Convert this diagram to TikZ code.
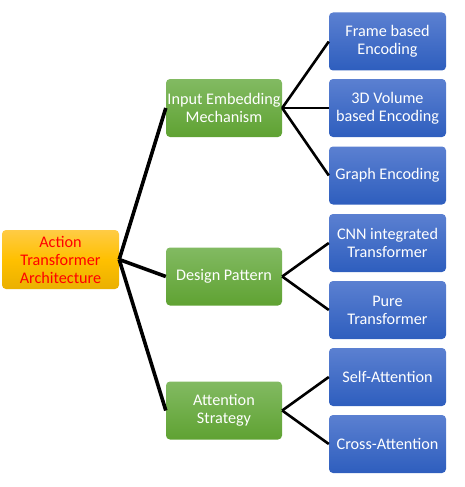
\documentclass[tikz,border=0pt]{standalone}
\usepackage{fontspec}
\setmainfont{Carlito}
\begin{document}
\begin{tikzpicture}[x=1pt,y=-1pt,
  box/.style={rounded corners=4pt, align=center, inner sep=0pt,
    minimum width=117pt, minimum height=58pt,
    font=\fontsize{16.2}{18}\selectfont, text=white},
  bluebox/.style={box, top color=blue1, bottom color=blue2},
  greenbox/.style={box, minimum width=116pt, top color=green1, bottom color=green2},
  rootbox/.style={box, minimum height=59pt, top color=orange1, bottom color=orange2, middle color=orange3, text=red},
  thickline/.style={line width=3.6pt},
  thinline/.style={line width=2.6pt}]
\definecolor{blue1}{HTML}{5B80D1}
\definecolor{blue2}{HTML}{2E5EBE}
\definecolor{green1}{HTML}{82BA62}
\definecolor{green2}{HTML}{5FA232}
\definecolor{orange1}{HTML}{FFCB45}
\definecolor{orange3}{HTML}{FFC000}
\definecolor{orange2}{HTML}{EAB000}
\definecolor{red}{HTML}{FF0000}
\useasboundingbox (0,0) rectangle (464,487);

\node[rootbox] (root) at (60.5,259.5) {Action\\Transformer\\Architecture};

\node[greenbox] (input) at (224,108) {Input Embedding\\Mechanism};
\node[greenbox] (design) at (224,276.5) {Design Pattern};
\node[greenbox] (attn) at (224,410.5) {Attention\\Strategy};

\node[bluebox] (frame) at (387.5,41.5) {Frame based\\Encoding};
\node[bluebox] (vol) at (387.5,108) {3D Volume\\based Encoding};
\node[bluebox] (graph) at (387.5,175.5) {Graph Encoding};
\node[bluebox] (cnn) at (387.5,243) {CNN integrated\\Transformer};
\node[bluebox] (pure) at (387.5,310) {Pure\\Transformer};
\node[bluebox] (self) at (387.5,377) {Self-Attention};
\node[bluebox] (cross) at (387.5,444) {Cross-Attention};

\draw[thickline] (root.east) -- (input.west);
\draw[thickline] (root.east) -- (design.west);
\draw[thickline] (root.east) -- (attn.west);

\draw[thinline] (input.east) -- (frame.west);
\draw[thinline] (input.east) -- (vol.west);
\draw[thinline] (input.east) -- (graph.west);
\draw[thinline] (design.east) -- (cnn.west);
\draw[thinline] (design.east) -- (pure.west);
\draw[thinline] (attn.east) -- (self.west);
\draw[thinline] (attn.east) -- (cross.west);
\end{tikzpicture}
\end{document}
